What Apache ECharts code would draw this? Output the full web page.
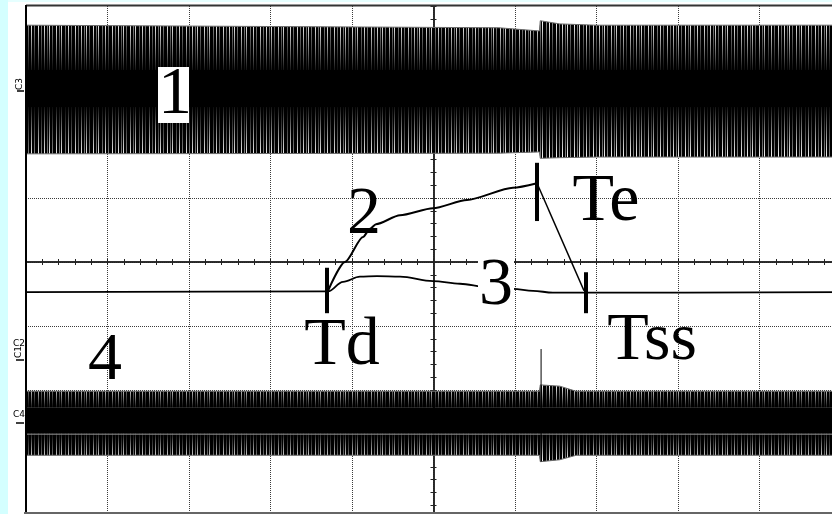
<!DOCTYPE html>
<html>
<head>
<meta charset="utf-8">
<script src="https://cdn.jsdelivr.net/npm/echarts@6/dist/echarts.min.js"></script>
<style>
  html, body { margin: 0; padding: 0; background: #fff; overflow: hidden; }
  #chart { width: 850px; height: 530px; }
</style>
</head>
<body>
<div id="chart"></div>
<script>
// Screen in divisions: 10 horizontal, 8 vertical, origin at the centre.
const xRange = [-5, 5];
const yRange = [-4, 4];

// Channel C3 (trace 1): envelope of the switching waveform
const c3Time   = [-5, 0.8, 1.30, 1.31, 1.55, 2.0, 5];
const c3Top    = [3.70, 3.66, 3.61, 3.77, 3.72, 3.70, 3.70];
const c3Bottom = [1.69, 1.70, 1.72, 1.62, 1.63, 1.64, 1.64];
const c3CoreTop = 3.00;
const c3CoreBottom = 2.42;

// Channel C4 (trace 4): envelope of the switching waveform
const c4Time   = [-5, 1.30, 1.31, 1.55, 1.75, 5];
const c4Top    = [-2.02, -2.02, -1.92, -1.94, -2.02, -2.02];
const c4Bottom = [-3.02, -3.02, -3.12, -3.09, -3.02, -3.02];
const c4CoreTop = -2.27;
const c4CoreBottom = -2.67;
const c4RefLevel = -2.69;
const c4Spike = { t: 1.32, hi: -1.36, lo: -3.12 };

// Trace 3: baseline with the slow bump between Td and Tss
const tr3Time = [-5, -1.294, -1.110, -0.902, -0.693, -0.411, -0.006, 0.325, 0.656, 0.975, 1.221, 1.466, 1.859, 5];
const tr3Val  = [-0.47, -0.46, -0.31, -0.23, -0.22, -0.23, -0.30, -0.34, -0.39, -0.42, -0.45, -0.48, -0.48, -0.47];

// Trace 2: rise from Td to Te, then fall to Tss
const tr2RiseTime = [-1.294, -1.086, -0.865, -0.779, -0.706, -0.411, -0.006, 0.411, 0.975, 1.270];
const tr2RiseVal  = [-0.45, 0.00, 0.39, 0.52, 0.59, 0.73, 0.84, 0.97, 1.16, 1.23];
const tr2FallTime = [1.270, 1.847];
const tr2FallVal  = [1.23, -0.45];

// Event markers: time, lower and upper extent
const markerNames = ['Td', 'Te', 'Tss'];
const markerTime  = [-1.307, 1.270, 1.871];
const markerLow   = [-0.80, 0.64, -0.80];
const markerHigh  = [-0.09, 1.55, -0.16];

const zip = (xs, ys) => xs.map((x, i) => [x, ys[i]]);

// Vertical streak texture for the fringes of the dense waveforms
function streakTile() {
  const c = document.createElement('canvas');
  c.width = 37; c.height = 2;
  const g = c.getContext('2d');
  g.fillStyle = '#000'; g.fillRect(0, 0, c.width, c.height);
  g.fillStyle = '#ffffff';
  [1, 7, 12, 19, 24, 31].forEach(x => g.fillRect(x, 0, 1, 2));
  g.fillStyle = '#8c8c8c';
  [4, 10, 15, 22, 28, 34].forEach(x => g.fillRect(x, 0, 1, 2));
  return c;
}
const streaks = { image: streakTile(), repeat: 'repeat' };
const shadeDown = { type: 'linear', x: 0, y: 0, x2: 0, y2: 1,
  colorStops: [{ offset: 0, color: 'rgba(0,0,0,0)' }, { offset: 1, color: 'rgba(0,0,0,0.92)' }] };
const shadeUp = { type: 'linear', x: 0, y: 0, x2: 0, y2: 1,
  colorStops: [{ offset: 0, color: 'rgba(0,0,0,0.92)' }, { offset: 1, color: 'rgba(0,0,0,0)' }] };

function bandSeries(time, top, bottom, coreTop, coreBottom) {
  const base = { type: 'line', symbol: 'none', silent: true, animation: false, xAxisIndex: 0, yAxisIndex: 0 };
  return [
    Object.assign({}, base, { data: zip(time, top), lineStyle: { width: 1, color: '#6a6a6a' },
      areaStyle: { color: streaks, opacity: 1, origin: coreTop } }),
    Object.assign({}, base, { data: zip(time, top), lineStyle: { width: 0 },
      areaStyle: { color: shadeDown, opacity: 1, origin: coreTop } }),
    Object.assign({}, base, { data: [[xRange[0], coreTop], [xRange[1], coreTop]], lineStyle: { width: 0 },
      areaStyle: { color: '#000', opacity: 1, origin: coreBottom } }),
    Object.assign({}, base, { data: zip(time, bottom), lineStyle: { width: 1, color: '#6a6a6a' },
      areaStyle: { color: streaks, opacity: 1, origin: coreBottom } }),
    Object.assign({}, base, { data: zip(time, bottom), lineStyle: { width: 0 },
      areaStyle: { color: shadeUp, opacity: 1, origin: coreBottom } })
  ];
}

const dotted = { show: true, lineStyle: { color: '#3c3c3c', width: 1, type: [1, 1] } };
const centreLine = { show: true, onZero: true, lineStyle: { color: '#222', width: 1.5 } };
const tick = { show: true, length: 3, lineStyle: { color: '#222', width: 1 } };
const minor = { show: true, splitNumber: 5, length: 3, lineStyle: { color: '#222', width: 1 } };

const serif = '"Liberation Serif", "DejaVu Serif", serif';
const bigText = (text, x, y, extra) => ({
  type: 'text', x, y, z: 100,
  style: Object.assign({ text, font: '68px ' + serif, fill: '#000', align: 'center', verticalAlign: 'middle' }, extra || {})
});
const smallText = (text, x, y, rot) => ({
  type: 'text', x, y, rotation: rot || 0, z: 100,
  style: { text, font: '9px "DejaVu Sans", sans-serif', fill: '#000', align: 'center', verticalAlign: 'middle' }
});

const option = {
  backgroundColor: '#fff',
  animation: false,
  grid: { left: 26, top: 6, width: 815, height: 512, containLabel: false },
  xAxis: [
    { type: 'value', min: xRange[0], max: xRange[1], interval: 1, position: 'bottom',
      axisLine: centreLine, axisTick: tick, minorTick: minor, axisLabel: { show: false },
      splitLine: Object.assign({}, dotted, { showMinLine: false, showMaxLine: false }) },
    { type: 'value', min: xRange[0], max: xRange[1], interval: 1, position: 'top',
      axisLine: centreLine, axisTick: tick, minorTick: minor, axisLabel: { show: false },
      splitLine: { show: false } }
  ],
  yAxis: [
    { type: 'value', min: yRange[0], max: yRange[1], interval: 1, position: 'left',
      axisLine: centreLine, axisTick: tick, minorTick: minor, axisLabel: { show: false },
      splitLine: Object.assign({}, dotted, { showMinLine: false, showMaxLine: false }) },
    { type: 'value', min: yRange[0], max: yRange[1], interval: 1, position: 'right',
      axisLine: centreLine, axisTick: tick, minorTick: minor, axisLabel: { show: false },
      splitLine: { show: false } }
  ],
  series: [
    ...bandSeries(c3Time, c3Top, c3Bottom, c3CoreTop, c3CoreBottom),
    ...bandSeries(c4Time, c4Top, c4Bottom, c4CoreTop, c4CoreBottom),
    { type: 'line', symbol: 'none', silent: true, data: [[xRange[0], c4RefLevel], [xRange[1], c4RefLevel]],
      lineStyle: { color: '#9a9a9a', width: 1 } },
    { type: 'line', symbol: 'none', silent: true, data: [[c4Spike.t, c4Spike.hi], [c4Spike.t, c4Spike.lo]],
      lineStyle: { color: '#000', width: 1 } },
    { type: 'line', name: '3', symbol: 'none', silent: true, smooth: 0.35, smoothMonotone: 'x',
      data: zip(tr3Time, tr3Val), lineStyle: { color: '#000', width: 1.8 },
      markLine: { silent: true, symbol: 'none', label: { show: false },
        lineStyle: { color: '#000', width: 4, type: 'solid' },
        data: markerNames.map((n, i) => [{ name: n, coord: [markerTime[i], markerLow[i]] }, { coord: [markerTime[i], markerHigh[i]] }]) } },
    { type: 'line', name: '2', symbol: 'none', silent: true, smooth: 0.25, smoothMonotone: 'x',
      data: zip(tr2RiseTime, tr2RiseVal), lineStyle: { color: '#000', width: 2 } },
    { type: 'line', name: '2', symbol: 'none', silent: true,
      data: zip(tr2FallTime, tr2FallVal), lineStyle: { color: '#000', width: 1.5 } }
  ],
  graphic: [
    // page margin and frame
    { type: 'rect', shape: { x: 0, y: 0, width: 8, height: 530 }, style: { fill: '#d4ffff' }, z: 90 },
    { type: 'rect', shape: { x: 8, y: 0, width: 842, height: 2 }, style: { fill: '#e6ffff' }, z: 90 },
    { type: 'line', shape: { x1: 26, y1: 5.5, x2: 850, y2: 5.5 }, style: { stroke: '#333', lineWidth: 2 }, z: 90 },
    { type: 'line', shape: { x1: 26, y1: 5, x2: 26, y2: 530 }, style: { stroke: '#000', lineWidth: 2 }, z: 90 },
    { type: 'line', shape: { x1: 24, y1: 513, x2: 850, y2: 513 }, style: { stroke: '#666', lineWidth: 2 }, z: 90 },
    // channel tags in the left margin
    smallText('C3', 20, 84, Math.PI / 2),
    { type: 'line', shape: { x1: 17, y1: 91, x2: 24, y2: 91 }, style: { stroke: '#000', lineWidth: 1.5 }, z: 100 },
    smallText('C2', 19, 344, 0),
    smallText('C1', 19, 352, Math.PI / 2),
    { type: 'line', shape: { x1: 16, y1: 360, x2: 24, y2: 360 }, style: { stroke: '#000', lineWidth: 1.5 }, z: 100 },
    smallText('C4', 19, 415, 0),
    { type: 'line', shape: { x1: 16, y1: 423, x2: 24, y2: 423 }, style: { stroke: '#000', lineWidth: 1.5 }, z: 100 },
    // trace numbers and event names
    { type: 'rect', shape: { x: 158, y: 67, width: 31, height: 56 }, style: { fill: '#fff' }, z: 99 },
    bigText('1', 175, 95),
    bigText('2', 364, 215),
    bigText('3', 496, 286, { backgroundColor: '#fff', padding: [0, 1, 0, 1] }),
    bigText('4', 105, 361),
    bigText('Te', 606, 202),
    bigText('Td', 342, 346),
    bigText('Tss', 652, 341)
  ]
};

const chart = echarts.init(document.getElementById('chart'), null, { renderer: 'canvas' });
chart.setOption(option);
</script>
</body>
</html>
